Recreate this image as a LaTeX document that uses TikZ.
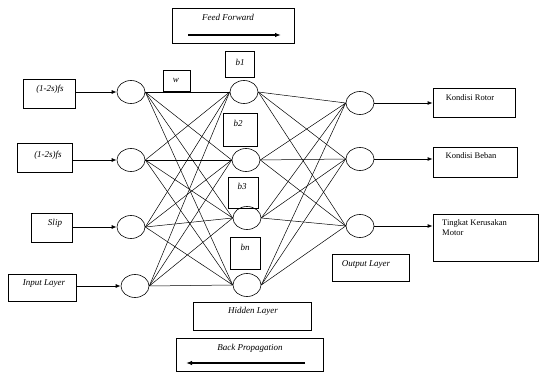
\documentclass[tikz,border=0pt]{standalone}
\usepackage{fontspec}
\setmainfont{Liberation Serif}
\usetikzlibrary{shapes.geometric,arrows.meta}

\tikzset{
  neuron/.style={draw, ellipse, line width=0.6pt, minimum width=28pt, minimum height=23pt, inner sep=0pt},
  box/.style={draw, line width=0.8pt, inner sep=0pt},
  lbl/.style={font=\fontsize{9}{10}\selectfont\itshape, inner sep=0pt},
  txt/.style={font=\fontsize{8.5}{10.5}\selectfont, inner sep=0pt},
  link/.style={line width=0.5pt},
  feed/.style={-{Latex[length=5pt,width=4pt]}, line width=0.8pt},
  big feed/.style={-{Latex[length=6pt,width=4.5pt]}, line width=1.6pt},
}

\begin{document}
\begin{tikzpicture}[x=1pt,y=-1pt]
\useasboundingbox (0,0) rectangle (539,374);

% input boxes
\node[box, minimum width=52pt, minimum height=29pt] (in1) at (49,93.5) {};
	\node[lbl] (in1t) at (50,89) {(1-2s)fs};
\node[box, minimum width=55pt, minimum height=29pt] (in2) at (44.5,157.5) {};
	\node[lbl] (in2t) at (48,155) {(1-2s)fs};
\node[box, minimum width=41pt, minimum height=29pt] (in3) at (51.5,227.5) {};
	\node[lbl] (in3t) at (55,223) {Slip};
\node[box, minimum width=68pt, minimum height=27pt] (in4) at (42,287.5) {};
	\node[lbl] (in4t) at (44,284) {Input Layer};

% neurons
\node[neuron] (i1) at (131,92) {};
\node[neuron] (i2) at (131,160) {};
\node[neuron] (i3) at (131,227) {};
\node[neuron] (i4) at (135,286) {};

\node[neuron] (h1) at (244,92) {};
\node[neuron] (h2) at (246,160) {};
\node[neuron] (h3) at (247,218) {};
\node[neuron] (h4) at (247,285) {};

\node[neuron] (o1) at (360,103) {};
\node[neuron] (o2) at (360,159) {};
\node[neuron] (o3) at (360,226) {};

% weight and bias boxes
\node[box, minimum width=27pt, minimum height=21pt] (wb) at (176.5,80.5) {};
	\node[lbl] (wt) at (176,80) {w};
\node[box, minimum width=29pt, minimum height=26pt] (b1) at (239.5,64) {};
	\node[lbl] (b1t) at (240,62) {b1};
\node[box, minimum width=34pt, minimum height=33pt] (b2) at (240,129.5) {};
	\node[lbl] (b2t) at (238,123) {b2};
\node[box, minimum width=30pt, minimum height=31pt] (b3) at (243,192.5) {};
	\node[lbl] (b3t) at (242,186) {b3};
\node[box, minimum width=30pt, minimum height=32pt] (bn) at (245,253) {};
	\node[lbl] (bnt) at (245,247) {bn};

% output boxes
\node[box, minimum width=82pt, minimum height=29pt] (out1) at (474,102.5) {};
	\node[txt] (out1t) at (470,98) {Kondisi Rotor};
\node[box, minimum width=84pt, minimum height=30pt] (out2) at (475,162) {};
	\node[txt] (out2t) at (471,156) {Kondisi Beban};
\node[box, minimum width=105pt, minimum height=47pt] (out3) at (485.5,237.5) {};
	\node[txt, anchor=north west, align=left] (out3t) at (442,219) {Tingkat Kerusakan\\Motor};

% layer names
\node[box, minimum width=118pt, minimum height=28pt] (hid) at (252,316) {};
	\node[lbl] (hidt) at (253,311) {Hidden Layer};
\node[box, minimum width=77pt, minimum height=27pt] (outl) at (370.5,267.5) {};
	\node[lbl] (outlt) at (366,264) {Output Layer};

% feed forward / back propagation
\node[box, minimum width=122pt, minimum height=35pt] (ff) at (233,25.5) {};
	\node[lbl] (fft) at (228,17) {Feed Forward};
\coordinate (ffa) at (188,35);
\coordinate (ffb) at (281,35);
\draw[big feed] (ffa)--(ffb);

\node[box, minimum width=147pt, minimum height=33pt] (bp) at (249.5,354.5) {};
	\node[lbl] (bpt) at (250,348) {Back Propagation};
\coordinate (bpa) at (305,363);
\coordinate (bpb) at (186,363);
\draw[big feed] (bpa)--(bpb);

% inputs in
\foreach \k in {1,...,4}
	\draw[feed] (i\k.west -| in\k.east)--(i\k.west);

% all links
\foreach \i in {1,...,4}
	\foreach \j in {1,...,4}
		\draw[link] (i\i.east)--(h\j.west);
\foreach \j in {1,...,4}
	\foreach \k in {1,...,3}
		\draw[link] (h\j.east)--(o\k.west);

% outputs out
\foreach \k in {1,2,3}
	\draw[feed] (o\k.east)--(o\k.east -| out\k.west);

\end{tikzpicture}
\end{document}
